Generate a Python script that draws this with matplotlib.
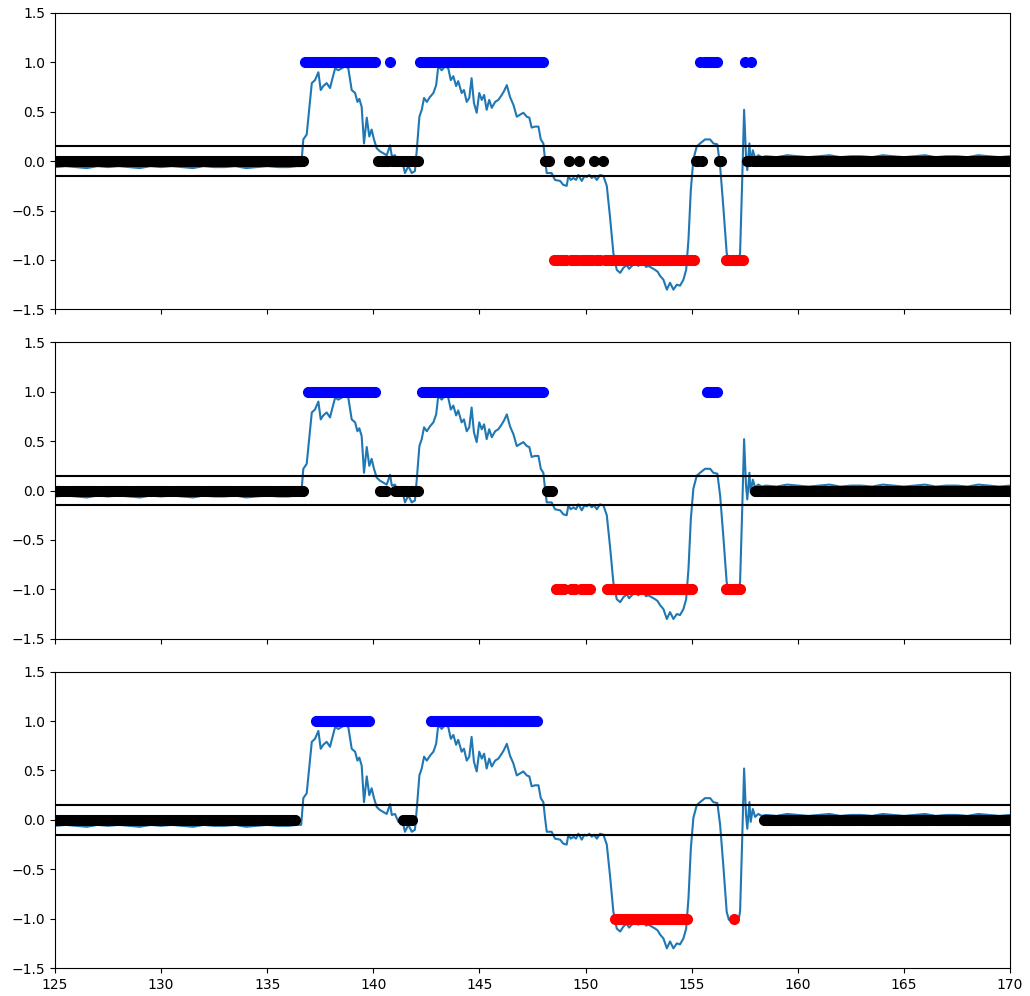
import numpy as np
import matplotlib
matplotlib.use('Agg')
import matplotlib.pyplot as plt

# signal (same in all three panels)
sig_t = [125.0, 125.5, 126.0, 126.5, 127.0, 127.5, 128.0, 128.5, 129.0, 129.5,
         130.0, 130.5, 131.0, 131.5, 132.0, 132.5, 133.0, 133.5, 134.0, 134.5,
         135.0, 135.5, 136.0, 136.4, 136.6, 136.7, 136.86, 137.1, 137.25, 137.41,
         137.52, 137.64, 137.8, 137.96, 138.04, 138.2, 138.35, 138.51, 138.67, 138.82,
         138.98, 139.14, 139.25, 139.34, 139.45, 139.56, 139.69, 139.81, 139.92, 140.03,
         140.16, 140.31, 140.47, 140.63, 140.79, 140.87, 141.02, 141.18, 141.34, 141.49,
         141.65, 141.81, 141.96, 142.05, 142.17, 142.28, 142.39, 142.52, 142.67, 142.83,
         142.96, 143.06, 143.22, 143.38, 143.53, 143.65, 143.77, 143.9, 144.0, 144.16,
         144.27, 144.4, 144.52, 144.63, 144.74, 144.87, 144.99, 145.11, 145.22, 145.34,
         145.46, 145.58, 145.74, 145.89, 146.05, 146.16, 146.29, 146.44, 146.6, 146.76,
         146.91, 147.07, 147.23, 147.35, 147.46, 147.62, 147.78, 147.89, 148.01, 148.09,
         148.17, 148.4, 148.56, 148.8, 148.95, 149.11, 149.19, 149.3, 149.43, 149.55,
         149.66, 149.82, 149.95, 150.05, 150.18, 150.29, 150.4, 150.53, 150.68, 150.84,
         151.0, 151.15, 151.31, 151.47, 151.63, 151.78, 151.94, 152.05, 152.18, 152.33,
         152.49, 152.6, 152.73, 152.85, 152.96, 153.12, 153.28, 153.4, 153.51, 153.67,
         153.83, 153.98, 154.14, 154.3, 154.45, 154.61, 154.74, 154.85, 154.96, 155.08,
         155.24, 155.4, 155.63, 155.87, 156.02, 156.21, 156.34, 156.49, 156.65, 156.75,
         157.0, 157.22, 157.28, 157.38, 157.47, 157.56, 157.62, 157.72, 157.78, 157.88,
         157.99, 158.14, 158.3, 158.5, 159.0, 159.5, 160.0, 160.5, 161.0, 161.5,
         162.0, 162.5, 163.0, 163.5, 164.0, 164.5, 165.0, 165.5, 166.0, 166.5,
         167.0, 167.5, 168.0, 168.5, 169.0, 169.5, 170.0]
sig_v = [-0.06, -0.05, -0.06, -0.07, -0.05, -0.06, -0.05, -0.06, -0.07, -0.05,
         -0.06, -0.05, -0.06, -0.07, -0.05, -0.06, -0.06, -0.05, -0.07, -0.06,
         -0.05, -0.06, -0.06, -0.05, -0.05, 0.22, 0.27, 0.79, 0.82, 0.90,
         0.72, 0.76, 0.79, 0.74, 0.81, 0.94, 0.92, 0.94, 0.96, 0.94,
         0.72, 0.69, 0.60, 0.63, 0.55, 0.18, 0.44, 0.25, 0.32, 0.22,
         0.13, 0.10, 0.08, 0.06, 0.16, 0.05, 0.06, -0.02, 0.02, -0.12,
         -0.05, -0.12, -0.10, 0.12, 0.45, 0.52, 0.64, 0.60, 0.65, 0.69,
         0.77, 0.96, 0.92, 0.96, 0.94, 0.82, 0.86, 0.76, 0.81, 0.69,
         0.72, 0.60, 0.64, 0.84, 0.59, 0.49, 0.69, 0.62, 0.67, 0.52,
         0.62, 0.54, 0.60, 0.62, 0.67, 0.71, 0.77, 0.65, 0.57, 0.45,
         0.47, 0.49, 0.45, 0.44, 0.34, 0.35, 0.35, 0.22, 0.18, 0.02,
         -0.12, -0.12, -0.19, -0.20, -0.24, -0.25, -0.15, -0.19, -0.17, -0.19,
         -0.14, -0.20, -0.15, -0.16, -0.14, -0.17, -0.15, -0.19, -0.14, -0.15,
         -0.25, -0.56, -0.93, -1.10, -1.13, -1.08, -1.05, -1.09, -1.06, -1.03,
         -1.06, -1.02, -1.03, -1.07, -1.06, -1.08, -1.10, -1.12, -1.16, -1.20,
         -1.30, -1.23, -1.30, -1.25, -1.26, -1.20, -1.10, -0.79, -0.29, 0.02,
         0.15, 0.18, 0.22, 0.22, 0.18, 0.17, -0.05, -0.46, -0.93, -1.01,
         -1.02, -1.00, -0.93, -0.20, 0.52, 0.05, -0.09, 0.18, -0.02, 0.11,
         0.03, 0.06, 0.04, 0.05, 0.04, 0.06, 0.05, 0.04, 0.05, 0.06,
         0.04, 0.05, 0.05, 0.04, 0.06, 0.05, 0.04, 0.05, 0.06, 0.04,
         0.05, 0.05, 0.04, 0.06, 0.05, 0.04, 0.05]

# classified samples: runs of (start, end) per class, one dict per panel
panel1 = {
    1: [(136.8, 140.1), (140.8, 140.8), (142.2, 148.0), (155.4, 155.4),
        (155.6, 156.2), (157.5, 157.5), (157.8, 157.8)],
    0: [(124.0, 136.7), (140.2, 140.7), (140.9, 142.1), (148.1, 148.3),
        (149.2, 149.2), (149.7, 149.7), (150.4, 150.4), (150.8, 150.8),
        (155.2, 155.3), (155.5, 155.5), (156.3, 156.4), (157.6, 157.7),
        (157.9, 171.0)],
    -1: [(148.5, 149.1), (149.3, 149.6), (149.8, 150.3), (150.5, 150.7),
         (150.9, 155.1), (156.6, 157.4)],
}
panel2 = {
    1: [(136.9, 140.1), (142.3, 148.0), (155.7, 156.2)],
    0: [(124.0, 136.7), (140.3, 140.6), (141.0, 142.1), (148.2, 148.4),
        (158.0, 171.0)],
    -1: [(148.6, 149.0), (149.3, 149.5), (149.8, 150.2), (151.0, 155.0),
         (156.6, 157.3)],
}
panel3 = {
    1: [(137.3, 139.8), (142.7, 147.7)],
    0: [(124.0, 136.3), (141.4, 141.8), (158.4, 171.0)],
    -1: [(151.4, 154.8), (157.0, 157.0)],
}
class_colors = {1: 'blue', 0: 'black', -1: 'red'}
threshold = 0.15

# sample times of the classified points
t = np.arange(1240, 1711) / 10.0

fig, axes = plt.subplots(3, 1, figsize=(10.3, 9.96), dpi=100, sharex=True)
fig.subplots_adjust(left=0.0534, right=0.9806, top=0.987, bottom=0.028, hspace=0.111)

for ax, runs in zip(axes, [panel1, panel2, panel3]):
    ax.plot(sig_t, sig_v, color='tab:blue')
    for cls, spans in runs.items():
        mask = np.zeros(len(t), dtype=bool)
        for a, b in spans:
            mask |= (t >= a - 1e-6) & (t <= b + 1e-6)
        ax.plot(t[mask], np.full(mask.sum(), cls), 'o', color=class_colors[cls], ms=7)
    ax.axhline(threshold, color='black')
    ax.axhline(-threshold, color='black')
    ax.set_ylim(-1.5, 1.5)
    ax.set_yticks(np.arange(-1.5, 1.51, 0.5))
    ax.set_xlim(125, 170)

plt.savefig('out.png')
